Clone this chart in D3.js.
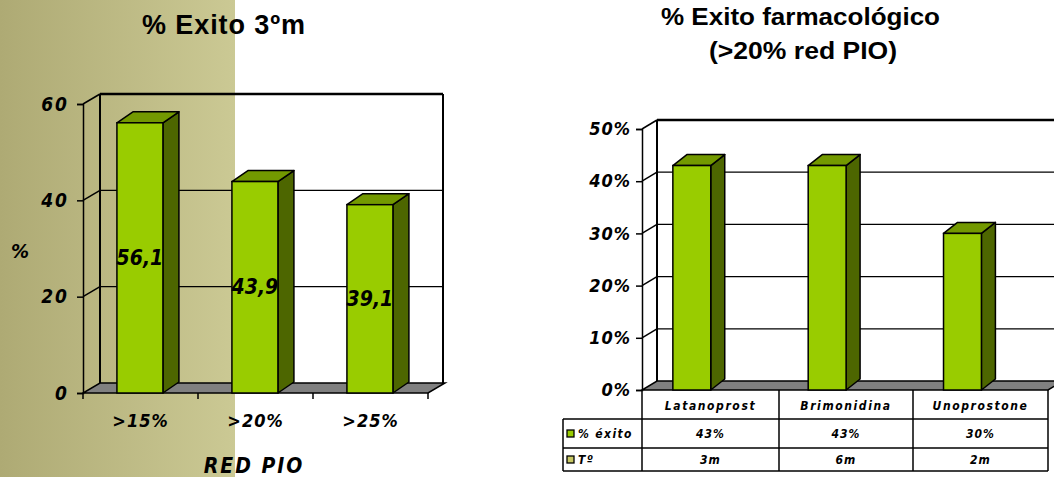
<!DOCTYPE html>
<html>
<head>
<meta charset="utf-8">
<script src="https://cdn.jsdelivr.net/npm/d3@7"></script>
<style>
  html, body { margin: 0; padding: 0; background: #fff; }
  svg { display: block; }
  .hand { font-family: "DejaVu Sans Condensed", "DejaVu Sans", sans-serif; font-weight: bold; font-style: italic; }
  .title { font-family: "Liberation Sans", Arial, sans-serif; font-weight: bold; }
</style>
</head>
<body>
<svg id="chart" width="1054" height="477"></svg>
<script>
// ---- data: success by IOP reduction threshold (3 months) ----
const redCategories = [">15%", ">20%", ">25%"];
const redValues = [56.1, 43.9, 39.1];
const redTicks = [0, 20, 40, 60];

// ---- data: pharmacological success (>20% IOP reduction) ----
const drugCategories = ["Latanoprost", "Brimonidina", "Unoprostone"];
const drugSuccess = [0.43, 0.43, 0.30];
const drugTime = ["3m", "6m", "2m"];
const drugTicks = [0, 0.1, 0.2, 0.3, 0.4, 0.5];
const tableRows = ["% éxito", "Tº"];

const C = {
  front: "#99cc00",
  top: "#739900",
  side: "#4d6600",
  floor: "#808080",
  key2: "#c8c864"
};

const svg = d3.select("#chart");

// olive gradient panel on the left
const defs = svg.append("defs");
const grad = defs.append("linearGradient").attr("id", "panel").attr("x1", 0).attr("x2", 1).attr("y1", 0).attr("y2", 0);
grad.append("stop").attr("offset", 0).attr("stop-color", "#aeaa74");
grad.append("stop").attr("offset", 1).attr("stop-color", "#cbc994");
svg.append("rect").attr("x", 0).attr("y", 0).attr("width", 235).attr("height", 477).attr("fill", "url(#panel)");

// draws a 3-D column chart: back wall, side wall, floor, columns and value axis
function chart3D(o) {
  const g = svg.append("g");
  const y = d3.scaleLinear().domain(o.domain).range([o.y0, o.yTop]);
  const x = d3.scaleBand().domain(o.cats).range([o.x0, o.x1]);
  const dx = o.dx, dy = o.dy;
  const xb0 = o.x0 + dx, xb1 = o.wallRight;

  // back-wall gridlines and side-wall diagonals
  o.ticks.forEach(t => {
    const yf = y(t), yb = y(t) + dy;
    if (t !== o.domain[0]) {
      g.append("line").attr("x1", xb0).attr("x2", xb1).attr("y1", yb).attr("y2", yb)
        .attr("stroke", "#000").attr("stroke-width", t === o.domain[1] ? 2.5 : 1.3);
      g.append("line").attr("x1", o.x0).attr("x2", xb0).attr("y1", yf).attr("y2", yb)
        .attr("stroke", "#000").attr("stroke-width", 1.5);
    }
  });
  // back-wall edges
  g.append("line").attr("x1", xb0).attr("x2", xb0).attr("y1", y(o.domain[1]) + dy).attr("y2", y(0) + dy)
    .attr("stroke", "#000").attr("stroke-width", 2);
  if (o.wallRightEdge) {
    g.append("line").attr("x1", xb1).attr("x2", xb1).attr("y1", y(o.domain[1]) + dy).attr("y2", y(0) + dy)
      .attr("stroke", "#000").attr("stroke-width", 2);
  }

  // floor
  g.append("path")
    .attr("d", `M${o.x0},${y(0)} L${o.x1},${y(0)} L${o.x1 + dx},${y(0) + dy} L${xb0},${y(0) + dy} Z`)
    .attr("fill", C.floor).attr("stroke", "#000").attr("stroke-width", 1.5);

  // columns
  const bw = x.bandwidth() * o.barWidth;
  const bdx = o.bdx, bdy = o.bdy;
  const bars = g.selectAll("g.bar").data(o.values).join("g").attr("class", "bar");
  bars.each(function (v, i) {
    const bx = x(o.cats[i]) + x.bandwidth() * o.barOffset;
    const yt = y(v), yb = y(0);
    const s = d3.select(this);
    s.append("path")
      .attr("d", `M${bx + bw},${yb} L${bx + bw},${yt} L${bx + bw + bdx},${yt + bdy} L${bx + bw + bdx},${yb + bdy} Z`)
      .attr("fill", C.side).attr("stroke", "#000").attr("stroke-width", 1.5).attr("stroke-linejoin", "round");
    s.append("path")
      .attr("d", `M${bx},${yt} L${bx + bw},${yt} L${bx + bw + bdx},${yt + bdy} L${bx + bdx},${yt + bdy} Z`)
      .attr("fill", C.top).attr("stroke", "#000").attr("stroke-width", 1.5).attr("stroke-linejoin", "round");
    s.append("rect").attr("x", bx).attr("y", yt).attr("width", bw).attr("height", yb - yt)
      .attr("fill", C.front).attr("stroke", "#000").attr("stroke-width", 1.5);
  });

  // value axis on the front edge
  const ax = g.append("g").attr("transform", `translate(${o.x0},0)`)
    .call(d3.axisLeft(y).tickValues(o.ticks).tickSize(6).tickPadding(o.tickPad).tickFormat(o.fmt));
  ax.select(".domain").attr("stroke", "#000").attr("stroke-width", 1.5);
  ax.selectAll(".tick line").attr("stroke", "#000").attr("stroke-width", 1.5);
  ax.selectAll(".tick text").attr("class", "hand").attr("font-size", o.tickFont).attr("fill", "#000")
    .attr("letter-spacing", o.tickSpacing || 0);

  return { g, x, y, bw };
}

// ---------------- left chart ----------------
const L = chart3D({
  cats: redCategories, values: redValues, domain: [0, 60], ticks: redTicks,
  x0: 83, x1: 428, y0: 393, yTop: 104, dx: 17, dy: -10, wallRight: 443, wallRightEdge: true,
  barWidth: 0.4, barOffset: 0.295, bdx: 16, bdy: -11, tickPad: 8, tickFont: 19, tickSpacing: 2,
  fmt: d => d
});
// category ticks on the floor's front edge
L.g.selectAll("line.ctick").data(d3.range(redCategories.length + 1)).join("line")
  .attr("x1", i => 83 + i * L.x.step()).attr("x2", i => 83 + i * L.x.step())
  .attr("y1", 393).attr("y2", 399).attr("stroke", "#000").attr("stroke-width", 1.5);
L.g.selectAll("text.cat").data(redCategories).join("text")
  .attr("class", "hand").attr("font-size", 18).attr("letter-spacing", 1)
  .attr("text-anchor", "middle").attr("x", d => L.x(d) + L.x.bandwidth() / 2).attr("y", 427).text(d => d);
// value labels inside the columns
L.g.selectAll("text.val").data(redValues).join("text")
  .attr("class", "hand").attr("font-size", 21).attr("text-anchor", "middle")
  .attr("x", (d, i) => L.x(redCategories[i]) + L.x.bandwidth() * 0.295 + L.bw / 2)
  .attr("y", d => (L.y(d) + L.y(0)) / 2 + 7)
  .text(d => d3.format(".1f")(d).replace(".", ","));
svg.append("text").attr("class", "hand").attr("font-size", 20).attr("x", 20).attr("y", 258)
  .attr("text-anchor", "middle").text("%");
svg.append("text").attr("class", "hand").attr("font-size", 21).attr("letter-spacing", 2)
  .attr("x", 254).attr("y", 473).attr("text-anchor", "middle").text("RED PIO");
svg.append("text").attr("class", "title").attr("font-size", 27).attr("x", 142).attr("y", 34)
  .attr("textLength", 163).attr("lengthAdjust", "spacing").text("% Exito 3ºm");

// ---------------- right chart ----------------
const R = chart3D({
  cats: drugCategories, values: drugSuccess, domain: [0, 0.5], ticks: drugTicks,
  x0: 642, x1: 1048, y0: 390, yTop: 129, dx: 15, dy: -9, wallRight: 1060, wallRightEdge: false,
  barWidth: 0.28, barOffset: 0.228, bdx: 14, bdy: -11, tickPad: 5, tickFont: 18, tickSpacing: 1,
  fmt: d3.format(".0%")
});
svg.append("text").attr("class", "title").attr("font-size", 24).attr("x", 661).attr("y", 25)
  .attr("textLength", 279).attr("lengthAdjust", "spacingAndGlyphs").text("% Exito farmacológico");
svg.append("text").attr("class", "title").attr("font-size", 24).attr("x", 709).attr("y", 59)
  .attr("textLength", 188).attr("lengthAdjust", "spacingAndGlyphs").text("(>20% red PIO)");

// data table under the right chart
const tg = svg.append("g");
const rowY = [390, 419, 448, 471];
const colX = [642, 779, 913, 1048];
const headX = 563;
const ln = (x1, y1, x2, y2) => tg.append("line").attr("x1", x1).attr("y1", y1).attr("x2", x2).attr("y2", y2)
  .attr("stroke", "#000").attr("stroke-width", 1.5);
colX.forEach(cx => ln(cx, rowY[0], cx, rowY[3]));
ln(headX, rowY[1], headX, rowY[3]);
[1, 2, 3].forEach(r => ln(headX, rowY[r], colX[3], rowY[r]));

tg.selectAll("text.tcat").data(drugCategories).join("text")
  .attr("class", "hand").attr("font-size", 12).attr("letter-spacing", 1.6).attr("text-anchor", "middle")
  .attr("x", (d, i) => (colX[i] + colX[i + 1]) / 2).attr("y", 410).text(d => d);
tg.selectAll("text.tval").data(drugSuccess).join("text")
  .attr("class", "hand").attr("font-size", 12).attr("letter-spacing", 1).attr("text-anchor", "middle")
  .attr("x", (d, i) => (colX[i] + colX[i + 1]) / 2).attr("y", 438).text(d => d3.format(".0%")(d));
tg.selectAll("text.ttime").data(drugTime).join("text")
  .attr("class", "hand").attr("font-size", 12).attr("letter-spacing", 1).attr("text-anchor", "middle")
  .attr("x", (d, i) => (colX[i] + colX[i + 1]) / 2).attr("y", 464).text(d => d);
// row headers with legend keys
const keyColors = [C.front, C.key2];
tableRows.forEach((r, i) => {
  const yc = (rowY[i + 1] + rowY[i + 2]) / 2;
  tg.append("rect").attr("x", 567).attr("y", yc - 3.5).attr("width", 7).attr("height", 7)
    .attr("fill", keyColors[i]).attr("stroke", "#000").attr("stroke-width", 1.3);
  tg.append("text").attr("class", "hand").attr("font-size", 12).attr("letter-spacing", 1.4)
    .attr("x", 578).attr("y", yc + 4.5).text(r);
});
</script>
</body>
</html>
